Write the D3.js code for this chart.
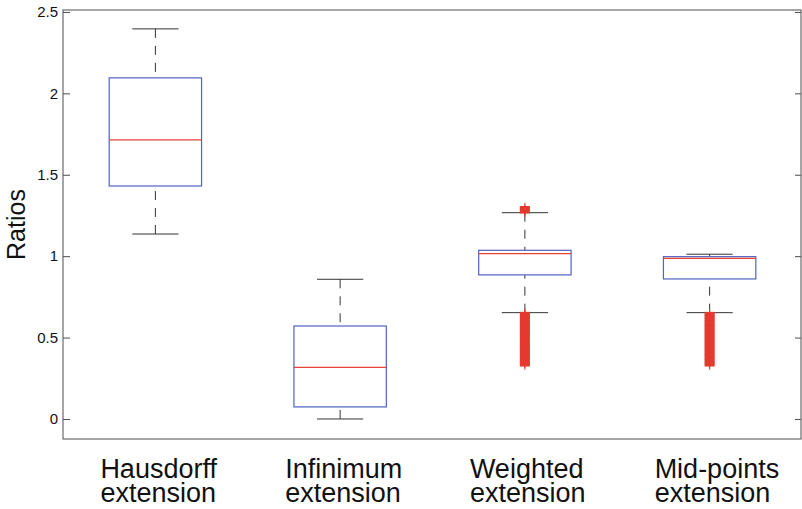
<!DOCTYPE html>
<html>
<head>
<meta charset="utf-8">
<script src="https://cdn.jsdelivr.net/npm/d3@7"></script>
<style>
  html, body { margin: 0; padding: 0; background: #fff; }
  svg text { font-family: "Liberation Sans", Arial, Helvetica, sans-serif; }
</style>
</head>
<body>
<div id="chart"></div>
<script>
// ── Box plot: ratios per extension ─────
const categories = [["Hausdorff", "extension"], ["Infinimum", "extension"],
                    ["Weighted", "extension"], ["Mid-points", "extension"]];
const q1        = [1.431, 0.074, 0.885, 0.860];
const medians   = [1.714, 0.317, 1.015, 0.987];
const q3        = [2.095, 0.571, 1.036, 0.997];
const whiskLow  = [1.136, 0.000, 0.653, 0.653];
const whiskHigh = [2.396, 0.858, 1.267, 1.012];
const outliers  = [
    [],
    [],
    [1.27, 1.28, 1.29, 1.30,
     0.33, 0.34, 0.35, 0.36, 0.37, 0.38, 0.39, 0.40, 0.41, 0.42, 0.43,
     0.44, 0.45, 0.46, 0.47, 0.48, 0.49, 0.50, 0.51, 0.52, 0.53, 0.54,
     0.55, 0.56, 0.57, 0.58, 0.59, 0.60, 0.61, 0.62, 0.63, 0.64, 0.65],
    [0.33, 0.34, 0.35, 0.36, 0.37, 0.38, 0.39, 0.40, 0.41, 0.42, 0.43,
     0.44, 0.45, 0.46, 0.47, 0.48, 0.49, 0.50, 0.51, 0.52, 0.53, 0.54,
     0.55, 0.56, 0.57, 0.58, 0.59, 0.60, 0.61, 0.62, 0.63, 0.64, 0.65]
];
const yTicks = [0, 0.5, 1, 1.5, 2, 2.5];

const width = 802, height = 509;
const m = { left: 63, right: 801, top: 10, bottom: 439 };

const svg = d3.select("#chart").append("svg")
    .attr("width", width).attr("height", height);

const x = d3.scaleLinear().domain([0.5, 4.5]).range([m.left, m.right + 1]);
const y = d3.scaleLinear().domain([-0.123, 2.512]).range([m.bottom, m.top]);

// Frame
svg.append("rect")
    .attr("x", m.left).attr("y", m.top)
    .attr("width", m.right - m.left).attr("height", m.bottom - m.top)
    .attr("fill", "none").attr("stroke", "#4d4d4d").attr("stroke-width", 1);

// Y axes (ticks inward)
const yAxisL = svg.append("g").attr("transform", `translate(${m.left},0)`)
    .call(d3.axisLeft(y).tickValues(yTicks).tickFormat(d => String(d))
        .tickSizeInner(-7).tickSizeOuter(0).tickPadding(5));
yAxisL.select(".domain").remove();
yAxisL.selectAll("line").attr("stroke", "#4d4d4d");
yAxisL.selectAll("text").style("font-size", "15px").attr("fill", "#111");

const yAxisR = svg.append("g").attr("transform", `translate(${m.right},0)`)
    .call(d3.axisRight(y).tickValues(yTicks).tickSizeInner(-6).tickSizeOuter(0).tickFormat(""));
yAxisR.select(".domain").remove();
yAxisR.selectAll("line").attr("stroke", "#4d4d4d");

// Y label
svg.append("text")
    .attr("transform", `translate(25,${(m.top + m.bottom) / 2}) rotate(-90)`)
    .attr("text-anchor", "middle")
    .style("font-size", "25px").attr("fill", "#111")
    .text("Ratios");

const boxW = x(1.25) - x(1);
const capW = x(1.125) - x(1);

categories.forEach((c, i) => {
    const cx = x(i + 1);
    const g = svg.append("g");

    // whiskers (dashed) from ends toward box
    g.append("line").attr("x1", cx).attr("x2", cx)
        .attr("y1", y(whiskHigh[i])).attr("y2", y(q3[i]))
        .attr("stroke", "#333").attr("stroke-width", 1).attr("stroke-dasharray", "9,8");
    g.append("line").attr("x1", cx).attr("x2", cx)
        .attr("y1", y(whiskLow[i])).attr("y2", y(q1[i]))
        .attr("stroke", "#333").attr("stroke-width", 1).attr("stroke-dasharray", "9,8");

    // caps
    [whiskHigh[i], whiskLow[i]].forEach(v => {
        g.append("line").attr("x1", cx - capW).attr("x2", cx + capW)
            .attr("y1", y(v)).attr("y2", y(v))
            .attr("stroke", "#333").attr("stroke-width", 1);
    });

    // box
    g.append("rect")
        .attr("x", cx - boxW).attr("y", y(q3[i]))
        .attr("width", boxW * 2).attr("height", y(q1[i]) - y(q3[i]))
        .attr("fill", "none").attr("stroke", "#4f63c0").attr("stroke-width", 1.2);

    // median
    g.append("line").attr("x1", cx - boxW).attr("x2", cx + boxW)
        .attr("y1", y(medians[i])).attr("y2", y(medians[i]))
        .attr("stroke", "#e8413a").attr("stroke-width", 1.2);

    // outliers as '+' markers
    outliers[i].forEach(v => {
        g.append("line").attr("x1", cx - 5).attr("x2", cx + 5)
            .attr("y1", y(v)).attr("y2", y(v))
            .attr("stroke", "#e53a30").attr("stroke-width", 2.6);
        g.append("line").attr("x1", cx).attr("x2", cx)
            .attr("y1", y(v) - 4.5).attr("y2", y(v) + 4.5)
            .attr("stroke", "#e53a30").attr("stroke-width", 1);
    });

    // category label (two lines, left aligned block)
    const t = svg.append("text")
        .attr("x", cx - 55).attr("y", 478)
        .style("font-size", "27px").attr("fill", "#111");
    c.forEach((line, k) => {
        t.append("tspan").attr("x", cx - 55).attr("dy", k === 0 ? 0 : 24).text(line);
    });
});
</script>
</body>
</html>
